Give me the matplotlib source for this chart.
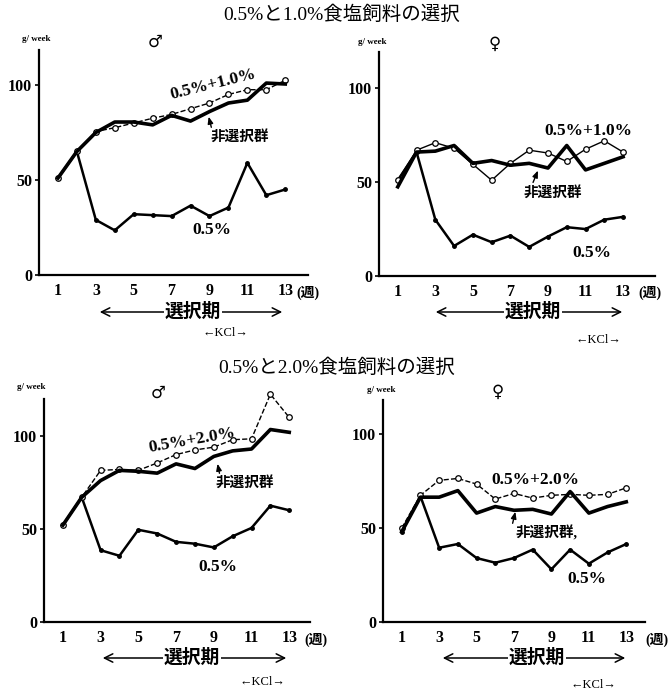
import matplotlib
matplotlib.use("Agg")
import matplotlib.pyplot as plt

plt.rcParams['font.family'] = ['Liberation Serif', 'Noto Sans CJK JP', 'DejaVu Sans']

W, H = 671, 691

weeks = [1, 2, 3, 4, 5, 6, 7, 8, 9, 10, 11, 12, 13]
week_ticks = [1, 3, 5, 7, 9, 11, 13]

# 0.5% と 1.0% 食塩飼料の選択
m1_control = [51, 65, 75, 80.5, 80.5, 79, 84, 81, 86, 90.5, 92, 101, 100.5]
m1_mixed = [51, 65, 75.5, 77.5, 80, 82.5, 84.5, 87.5, 90.5, 95, 97.5, 97.5, 102.5]
m1_low = [51, 65, 29, 23.5, 32, 31.5, 31, 36.5, 31, 35.5, 59, 42, 45]

f1_control = [47.5, 66, 66.5, 69.5, 60, 61.5, 59, 60, 57.5, 69.5, 56.5, 60, 63.5]
f1_mixed = [51, 67, 71, 68, 59.5, 51, 60, 67, 65.5, 61, 67.5, 72, 66]
f1_low = [51, 66, 30, 16, 22, 18, 21.5, 15.5, 21, 26, 25, 30, 31.5]

# 0.5% と 2.0% 食塩飼料の選択
m2_control = [52, 67, 76, 81.5, 81, 80, 85, 82.5, 89, 92, 93, 103.5, 102]
m2_mixed = [52, 67, 81.5, 82, 81.5, 85.5, 90, 92.5, 94, 98, 98.5, 122.5, 110]
m2_low = [52, 67, 38.5, 35.5, 49.5, 47.5, 43, 42, 40, 46, 50.5, 62.5, 60]

f2_control = [48, 66.5, 66.5, 70, 58, 61.5, 59.5, 60, 57.5, 69.5, 58, 61.5, 64]
f2_mixed = [50, 67.5, 75.5, 76.5, 73.5, 65.5, 68.5, 66, 67.5, 68, 67.5, 68, 71.5]
f2_low = [48, 67, 39.5, 41.5, 34, 31.5, 34, 38.5, 28, 38.5, 31, 37, 41.5]


def px(x, y):
    return x / W, 1 - y / H


fig = plt.figure(figsize=(W / 100, H / 100), dpi=100)


def make_axes(left, right, bottom, top, xmax, ymax, spine_top=None):
    rect = [left / W, 1 - bottom / H, (right - left) / W, (bottom - top) / H]
    ax = fig.add_axes(rect)
    ax.set_xlim(0, xmax)
    ax.set_ylim(0, ymax)
    for s in ('top', 'right'):
        ax.spines[s].set_visible(False)
    ax.spines['left'].set_linewidth(1.6)
    ax.spines['bottom'].set_linewidth(1.6)
    if spine_top is not None:
        ax.spines['left'].set_bounds(0, spine_top)
    ax.set_yticks([0, 50, 100])
    ax.set_yticklabels(['0', '50', '100'], fontsize=11.5, fontweight='bold')
    ax.set_xticks(week_ticks)
    ax.set_xticklabels([str(w) for w in week_ticks], fontsize=11.5, fontweight='bold')
    ax.tick_params(axis='y', length=3, width=1.2, pad=2)
    ax.tick_params(axis='x', length=0, pad=6)
    ax.patch.set_alpha(0)
    return ax


def draw(ax, control, mixed, low, mixed_style='--'):
    ax.plot(weeks, low, color='black', lw=1.8, marker='o', ms=2.5, clip_on=False)
    ax.plot(weeks, mixed, color='black', lw=1.0, ls=mixed_style, marker='o', ms=4,
            mfc='white', mec='black', mew=0.9, clip_on=False)
    ax.plot(weeks, control, color='black', lw=2.6, clip_on=False)


def period_arrow(x0, x1, y, xt):
    fig.add_artist(matplotlib.patches.FancyArrowPatch(
        px(x0, y), px(x1, y), transform=fig.transFigure,
        arrowstyle='<->,head_length=6,head_width=3', lw=1.1, color='black'))
    fig.text(*px(xt, y), '選択期', fontsize=13.5, fontweight='bold', ha='center',
             va='center', bbox=dict(facecolor='white', edgecolor='none', pad=0.5))


def pointer(xy_text, xy_tip):
    fig.add_artist(matplotlib.patches.FancyArrowPatch(
        px(*xy_text), px(*xy_tip), transform=fig.transFigure,
        arrowstyle='-|>,head_length=4,head_width=1.6', lw=1.0, color='black'))


def label(x, y, s, size=12.5, rot=0, bold=False):
    fig.text(*px(x, y), s, fontsize=size, ha='center', va='center', rotation=rot,
             fontweight='bold' if bold else 'normal')


# titles
label(342, 15, '0.5%と1.0%食塩飼料の選択', size=14)
label(337, 368, '0.5%と2.0%食塩飼料の選択', size=14)

# top-left: male
ax1 = make_axes(39, 308, 275, 50, 14.2, 118.4)
draw(ax1, m1_control, m1_mixed, m1_low)
fig.text(*px(22, 39), 'g/ week', fontsize=6.5, fontweight='bold', va='center')
fig.text(*px(155, 42), '♂', fontsize=12, ha='center', va='center', family='DejaVu Sans')
label(213, 84, '0.5%+1.0%', rot=14, bold=True)
label(240, 137, '非選択群', size=10.5, bold=True)
pointer((212, 130), (208, 114))
label(212, 230, '0.5%', bold=True)
label(308, 293, '(週)', size=10, bold=True)
period_arrow(97, 285, 312, 193)
label(225, 333, '←KCl→', size=9)

# top-right: female
ax2 = make_axes(379, 655, 276, 52, 14.7, 119.3)
draw(ax2, f1_control, f1_mixed, f1_low, mixed_style='-')
fig.text(*px(358, 42), 'g/ week', fontsize=6.5, fontweight='bold', va='center')
fig.text(*px(495, 44), '♀', fontsize=12, ha='center', va='center', family='DejaVu Sans')
label(588, 131, '0.5%+1.0%', bold=True)
label(553, 193, '非選択群', size=10.5, bold=True)
pointer((532, 185), (539, 168))
label(592, 253, '0.5%', bold=True)
label(650, 293, '(週)', size=10, bold=True)
period_arrow(433, 625, 312, 533)
label(598, 340, '←KCl→', size=9)

# bottom-left: male
ax3 = make_axes(44, 310, 621.7, 389.6, 14.1, 125, spine_top=120)
draw(ax3, m2_control, m2_mixed, m2_low)
fig.text(*px(17, 387), 'g/ week', fontsize=6.5, fontweight='bold', va='center')
fig.text(*px(158, 393), '♂', fontsize=12, ha='center', va='center', family='DejaVu Sans')
label(192, 440, '0.5%+2.0%', rot=10, bold=True)
label(245, 483, '非選択群', size=10.5, bold=True)
pointer((220, 476), (217, 461))
label(218, 567, '0.5%', bold=True)
label(316, 640, '(週)', size=10, bold=True)
period_arrow(100, 289, 658, 192)
label(262, 682, '←KCl→', size=9)

# bottom-right: female
ax4 = make_axes(383, 645, 621.7, 400, 14.0, 118.4)
draw(ax4, f2_control, f2_mixed, f2_low)
fig.text(*px(367, 390), 'g/ week', fontsize=6.5, fontweight='bold', va='center')
fig.text(*px(498, 392), '♀', fontsize=12, ha='center', va='center', family='DejaVu Sans')
label(535, 480, '0.5%+2.0%', bold=True)
label(547, 533, '非選択群,', size=10.5, bold=True)
pointer((512, 526), (516, 509))
label(587, 579, '0.5%', bold=True)
label(657, 640, '(週)', size=10, bold=True)
period_arrow(440, 628, 658, 537)
label(593, 685, '←KCl→', size=9)

fig.savefig('out.png', dpi=100, facecolor='white')
